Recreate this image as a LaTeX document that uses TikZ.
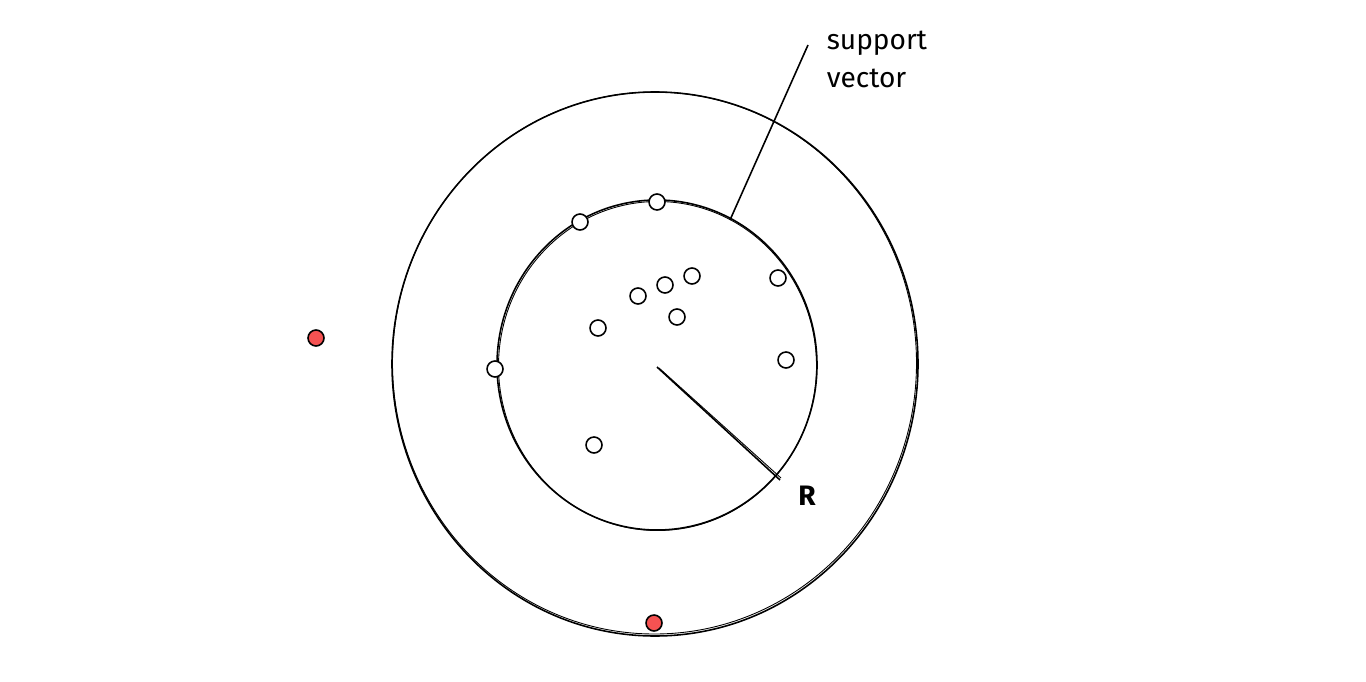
\documentclass[tikz,border=0pt]{standalone}
\usepackage{fontspec}
\setmainfont{Fira Sans}
\begin{document}
\begin{tikzpicture}[x=0.02cm,y=-0.02cm,
  line width=0.9pt,
  pt/.style={draw=black,circle,inner sep=0pt,minimum size=0.32cm,line width=0.9pt,fill=white},
  redpt/.style={draw=black,circle,inner sep=0pt,minimum size=0.32cm,line width=0.9pt,fill=redfill},
  lab/.style={font=\fontsize{16}{20}\selectfont,anchor=north west,inner sep=0pt,align=left}]
\definecolor{redfill}{RGB}{245,82,82}
\useasboundingbox[fill=white] (0,0) rectangle (1366,682);
% outer ellipse (sketchy double stroke)
\draw (655,364) ellipse [x radius=263, y radius=272];
\draw[line width=0.5pt] (654.5,363) ellipse [x radius=262, y radius=271];
% inner ellipse
\draw (657,365) ellipse [x radius=160, y radius=165];
\draw[line width=0.5pt] (657.5,366) ellipse [x radius=159, y radius=164.5];
% radius
\coordinate (c) at (657,367);
\coordinate (rend) at (780,480);
\draw (c) -- (rend);
\draw[line width=0.5pt] (659,368) -- (781,478);
\node[font=\fontsize{16}{18}\selectfont\bfseries] (R) at (807,496) {R};
% support vector
\coordinate (sv) at (730,220);
\node[lab] (svtext) at (826,30) {support\\[2pt]vector};
\coordinate (svtop) at (808,45);
\draw (sv) -- (svtop);
% points
\node[pt] (p1) at (580,222) {};
\node[pt] (p2) at (657,202) {};
\node[pt] (p3) at (692,276) {};
\node[pt] (p4) at (665,285) {};
\node[pt] (p5) at (638,296) {};
\node[pt] (p6) at (778,278) {};
\node[pt] (p7) at (598,328) {};
\node[pt] (p8) at (677,317) {};
\node[pt] (p9) at (495,369) {};
\node[pt] (p10) at (786,360) {};
\node[pt] (p11) at (594,445) {};
\node[redpt] (r1) at (316,338) {};
\node[redpt] (r2) at (654,623) {};
\end{tikzpicture}
\end{document}
